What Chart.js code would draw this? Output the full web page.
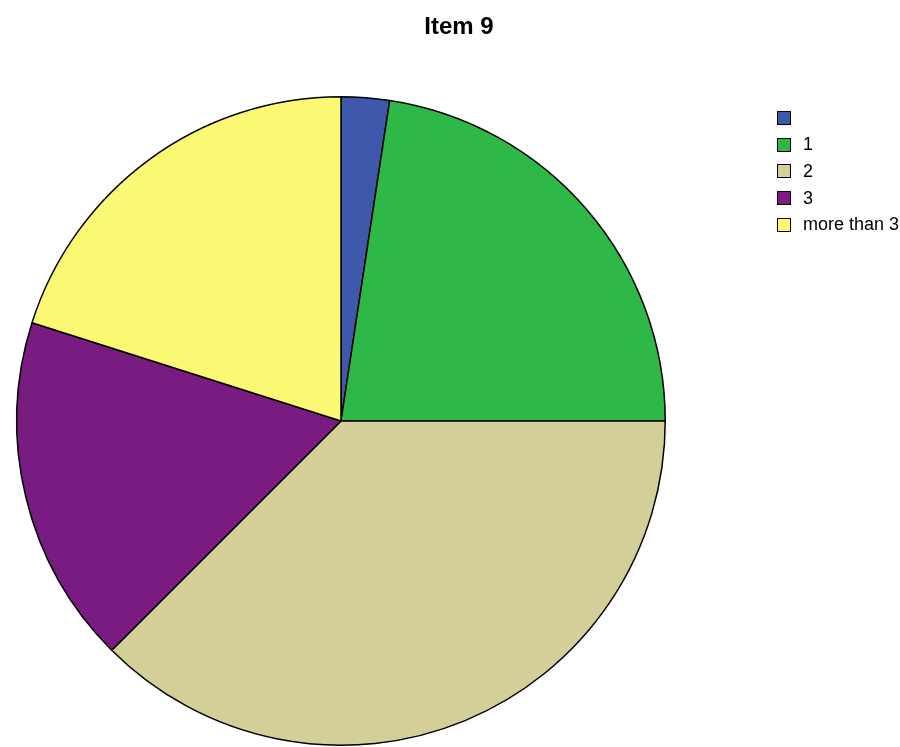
<html>
<head>
<script src="https://cdn.jsdelivr.net/npm/chart.js@4.4.0/dist/chart.umd.min.js"></script>
<style>
  body { margin: 0; background: #fff; font-family: "Liberation Sans", Arial, sans-serif; }
  #wrap { position: relative; width: 900px; height: 747px; }
  #title { position: absolute; left: 0; width: 918px; top: 14px; line-height: 24px; text-align: center; font-weight: bold; font-size: 24px; color: #000; }
  #legend { position: absolute; left: 777px; top: 104.6px; font-size: 18px; color: #000; }
  .row { display: flex; align-items: center; height: 26.7px; white-space: nowrap; }
  .box { flex: none; width: 12px; height: 12px; border: 1px solid #000; margin-right: 12px; }
</style>
</head>
<body>
<div id="wrap">
  <canvas id="pie" width="900" height="747"></canvas>
  <div id="title">Item 9</div>
  <div id="legend"></div>
</div>
<script>
var categories = ["", "1", "2", "3", "more than 3"];
var percents = [2.4, 22.6, 37.5, 17.4, 20.1];
var colors = ["#3e58ac", "#2eb848", "#d4cf98", "#781c81", "#fbf873"];

var legend = document.getElementById("legend");
categories.forEach(function (c, i) {
  var row = document.createElement("div");
  row.className = "row";
  row.innerHTML = '<span class="box" style="background:' + colors[i] + '"></span><span>' + c + '</span>';
  legend.appendChild(row);
});

new Chart("pie", {
  type: "pie",
  data: {
    labels: categories,
    datasets: [{
      data: percents,
      backgroundColor: colors,
      borderColor: "#000",
      borderWidth: 1.5
    }]
  },
  options: {
    responsive: false,
    animation: false,
    layout: { padding: { left: 16, right: 234, top: 96, bottom: 1 } },
    plugins: { legend: { display: false }, tooltip: { enabled: false } }
  }
});
</script>
</body>
</html>
